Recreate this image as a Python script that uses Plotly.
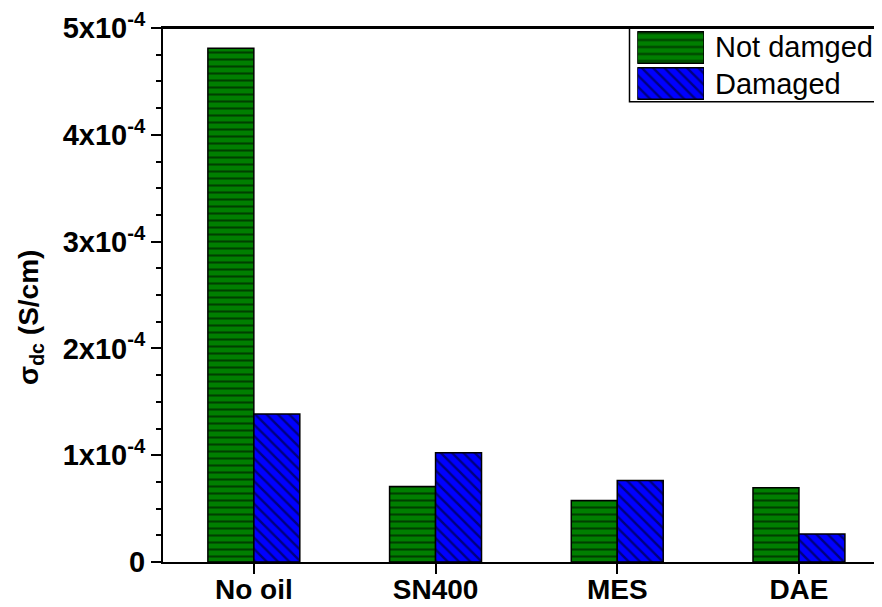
import plotly.graph_objects as go

categories = ["No oil", "SN400", "MES", "DAE"]
not_damaged = [4.81e-4, 0.706e-4, 0.575e-4, 0.696e-4]
damaged = [1.385e-4, 1.024e-4, 0.762e-4, 0.262e-4]
series_names = ["Not damged", "Damaged"]
ytick_vals = [0, 1e-4, 2e-4, 3e-4, 4e-4, 5e-4]
ytick_text = ["0", "1x10<sup>-4</sup>", "2x10<sup>-4</sup>", "3x10<sup>-4</sup>",
              "4x10<sup>-4</sup>", "5x10<sup>-4</sup>"]
legend_swatch_len = [1, 1]

GREEN = "#007F00"
BLUE = "#0000FF"
FONT = "Liberation Sans, Arial, sans-serif"

# page has an 8px body margin; size the figure so it fits the window
OFF = 8
W, H = 882 - 2 * OFF, 607 - 2 * OFF
L, R, T = 163 - OFF, 0, 28 - OFF
B = H - (562 - OFF)
pw, ph = W - L - R, H - T - B

def px(sx):
    return (sx - OFF - L) / pw

def py(sy):
    return (H - B - (sy - OFF)) / ph

cat_px = 181.7
x_right = -0.5 + pw / cat_px

fig = go.Figure()
fig.add_trace(go.Bar(
    x=categories, y=not_damaged, name=series_names[0], showlegend=False,
    marker=dict(color=GREEN, line=dict(color="black", width=1.5),
                pattern=dict(shape="-", fgcolor="black", bgcolor=GREEN,
                             size=7, solidity=0.3)),
))
fig.add_trace(go.Bar(
    x=categories, y=damaged, name=series_names[1], showlegend=False,
    marker=dict(color=BLUE, line=dict(color="black", width=1.5),
                pattern=dict(shape="\\", fgcolor="black", bgcolor=BLUE,
                             size=8, solidity=0.3)),
))

# legend swatches (inset axes)
fig.add_trace(go.Bar(
    x=[legend_swatch_len[0]], y=[1], orientation="h", xaxis="x2", yaxis="y2",
    showlegend=False, width=0.88, hoverinfo="skip",
    marker=dict(color=GREEN, line=dict(color="black", width=1.5),
                pattern=dict(shape="-", fgcolor="black", bgcolor=GREEN,
                             size=7, solidity=0.3)),
))
fig.add_trace(go.Bar(
    x=[legend_swatch_len[1]], y=[0], orientation="h", xaxis="x2", yaxis="y2",
    showlegend=False, width=0.88, hoverinfo="skip",
    marker=dict(color=BLUE, line=dict(color="black", width=1.5),
                pattern=dict(shape="\\", fgcolor="black", bgcolor=BLUE,
                             size=8, solidity=0.3)),
))

fig.update_layout(
    width=W, height=H,
    margin=dict(l=L, r=R, t=T, b=B, pad=0, autoexpand=False),
    paper_bgcolor="white", plot_bgcolor="white",
    barmode="group", bargap=0.494, bargroupgap=0,
    font=dict(family=FONT, color="black"),
    showlegend=False,
    xaxis=dict(
        range=[-0.5, x_right], showline=True, linecolor="black", linewidth=2,
        mirror=True, ticks="outside", ticklen=10, tickwidth=2, tickcolor="black",
        tickfont=dict(size=28, family=FONT, color="black"),
        tickvals=categories, ticktext=["<b>%s</b>" % c for c in categories],
        showgrid=False, zeroline=False, automargin=False,
        ticklabeloverflow="allow", ticklabelstandoff=-9,
    ),
    yaxis=dict(
        range=[0, 5e-4], showline=True, linecolor="black", linewidth=2,
        ticks="outside", ticklen=10, tickwidth=2, tickcolor="black",
        tickvals=ytick_vals, ticktext=["<b>%s</b>" % t for t in ytick_text],
        tickfont=dict(size=29, family=FONT, color="black"),
        minor=dict(dtick=2.5e-5, ticks="outside", ticklen=5, tickwidth=2,
                   tickcolor="black", showgrid=False),
        showgrid=False, zeroline=False, automargin=False,
        ticklabeloverflow="allow",
    ),
    xaxis2=dict(domain=[px(637.3), px(704)], range=[0, 1], visible=False,
                anchor="y2", fixedrange=True, automargin=False),
    yaxis2=dict(domain=[py(101.5), py(29.5)], range=[-0.5, 1.5], visible=False,
                anchor="x2", fixedrange=True, automargin=False),
)

# top frame line of the plot area
fig.add_shape(type="line", xref="paper", yref="paper", x0=0, x1=1, y0=1, y1=1,
              line=dict(color="black", width=2), layer="above")

# legend frame
fig.add_shape(type="rect", xref="paper", yref="paper",
              x0=px(629.5), x1=1.02, y0=py(101.7), y1=1.0,
              line=dict(color="black", width=1.5), fillcolor="rgba(0,0,0,0)",
              layer="above")

fig.add_annotation(text=series_names[0], xref="paper", yref="paper",
                   x=px(713), y=py(47), xanchor="left", yanchor="middle",
                   showarrow=False, font=dict(size=29, family=FONT, color="black"))
fig.add_annotation(text=series_names[1], xref="paper", yref="paper",
                   x=px(713), y=py(84), xanchor="left", yanchor="middle",
                   showarrow=False, font=dict(size=29, family=FONT, color="black"))

# y-axis title
fig.add_annotation(text="<b>σ<sub>dc</sub> (S/cm)</b>", xref="paper", yref="paper",
                   x=px(30), y=py(318), xanchor="center", yanchor="middle",
                   textangle=-90, showarrow=False,
                   font=dict(size=28, family=FONT, color="black"))

fig.write_html("out.html")
